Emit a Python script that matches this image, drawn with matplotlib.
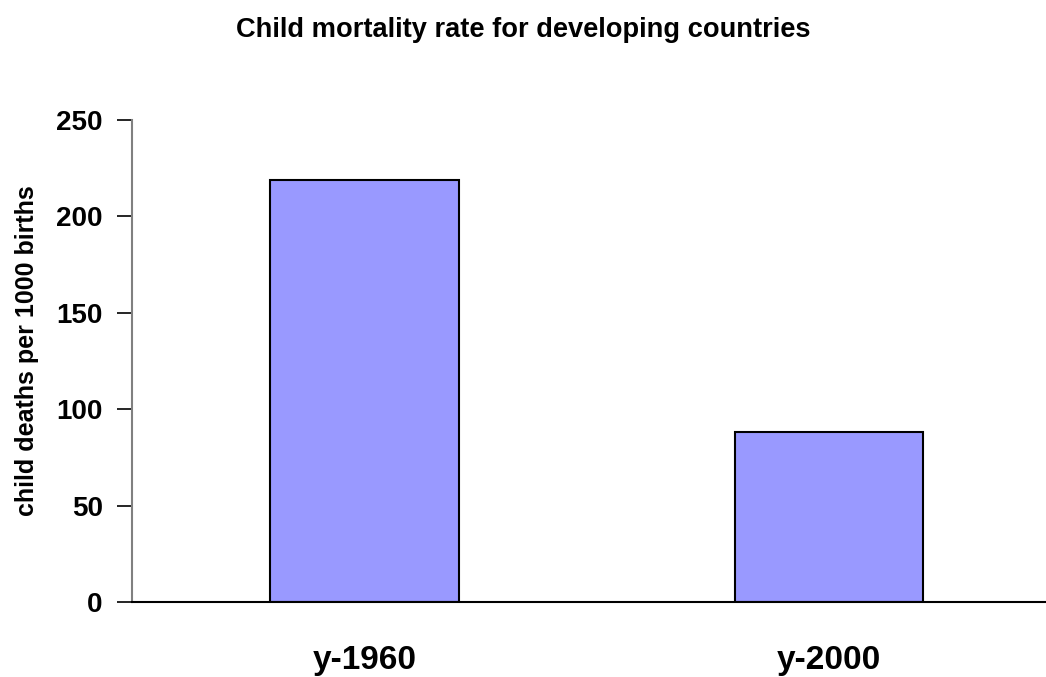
import matplotlib
matplotlib.use("Agg")
import matplotlib.pyplot as plt

# data
categories = ["y-1960", "y-2000"]
values = [219, 88]
yticks = [0, 50, 100, 150, 200, 250]

plt.rcParams['font.family'] = ['Liberation Sans', 'DejaVu Sans']

fig = plt.figure(figsize=(10.46, 6.77), dpi=100)
ax = fig.add_axes([132/1046, 75/677, 1 - 132/1046, 482/677])

x = range(len(categories))
ax.bar(x, values, width=0.405, color="#9999FF", edgecolor="black", linewidth=1.5)

ax.set_xlim(-0.5, (1046 - 365) / 464.5)
ax.set_ylim(0, 250)
ax.set_yticks(yticks)
ax.set_xticks(list(x))
ax.set_xticklabels(categories, fontsize=24, fontweight="bold")
ax.tick_params(axis="y", labelsize=20, length=11, width=1.2, pad=10, color="black")
for lbl in ax.get_yticklabels():
    lbl.set_fontweight("bold")
ax.tick_params(axis="x", length=0, pad=31)

ax.spines["top"].set_visible(False)
ax.spines["right"].set_visible(False)
ax.spines["left"].set_color("#808080")
ax.spines["left"].set_linewidth(1.5)
ax.spines["bottom"].set_linewidth(1.5)

fig.text(27/1046, 1 - 351/677, "child deaths per 1000 births", rotation=90,
         ha="center", va="center", fontsize=18, fontweight="bold")
fig.text(0.5, 1 - 30/677, "Child mortality rate for developing countries",
         ha="center", va="center", fontsize=19.6, fontweight="bold")

fig.savefig("out.png", dpi=100)
